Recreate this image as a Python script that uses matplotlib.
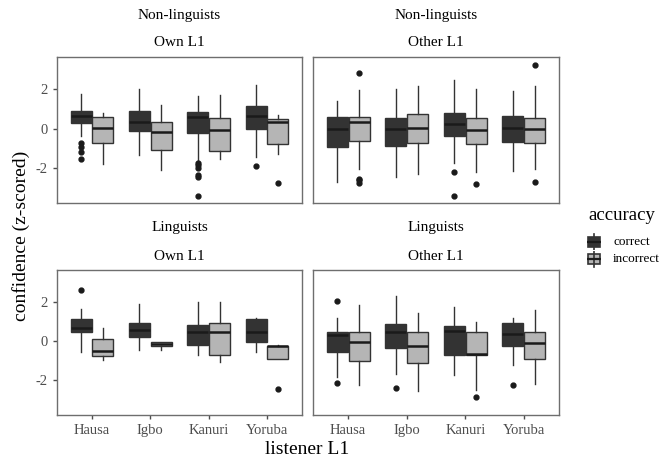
import matplotlib
matplotlib.use('Agg')
import matplotlib.pyplot as plt
from matplotlib.patches import Rectangle
import numpy as np

plt.rcParams['font.family'] = ['Liberation Serif', 'DejaVu Serif']

languages = ['Hausa', 'Igbo', 'Kanuri', 'Yoruba']
groups = ['Non-linguists', 'Linguists']
l1_types = ['Own L1', 'Other L1']
accuracy_levels = ['correct', 'incorrect']
fill_colors = {'correct': '#333333', 'incorrect': '#b5b5b5'}

# box stats per panel: [language] -> (whislo, q1, med, q3, whishi, fliers)
nonling_own_correct = [
    (-0.37, 0.30, 0.64, 0.92, 1.76, [-0.75, -0.95, -1.21, -1.54]),
    (-1.34, -0.15, 0.32, 0.89, 2.03, []),
    (-1.59, -0.22, 0.59, 0.85, 1.68, [-1.74, -1.88, -1.99, -2.38, -2.46, -3.42]),
    (-1.46, -0.02, 0.65, 1.16, 2.23, [-1.93]),
]
nonling_own_incorrect = [
    (-1.79, -0.75, 0.05, 0.60, 0.80, []),
    (-2.13, -1.09, -0.20, 0.32, 1.22, []),
    (-1.54, -1.16, -0.08, 0.52, 1.69, []),
    (-1.32, -0.79, 0.34, 0.47, 0.69, [-2.76]),
]
nonling_other_correct = [
    (-2.75, -0.95, 0.00, 0.59, 1.42, []),
    (-2.46, -0.90, -0.03, 0.55, 2.01, []),
    (-1.76, -0.37, 0.23, 0.80, 2.48, [-2.23, -3.43]),
    (-2.16, -0.67, 0.05, 0.64, 1.93, []),
]
nonling_other_incorrect = [
    (-2.09, -0.62, 0.34, 0.60, 1.98, [2.85, -2.55, -2.63, -2.76]),
    (-2.33, -0.72, 0.02, 0.75, 2.18, []),
    (-2.23, -0.80, -0.08, 0.52, 2.01, [-2.83]),
    (-2.09, -0.72, -0.02, 0.55, 2.19, [3.23, -2.75]),
]
ling_own_correct = [
    (-0.58, 0.44, 0.68, 1.15, 1.63, [2.61]),
    (-0.46, 0.20, 0.58, 0.95, 1.92, []),
    (-0.71, -0.19, 0.49, 0.83, 2.00, []),
    (-0.54, -0.07, 0.49, 1.15, 1.20, []),
]
ling_own_incorrect = [
    (-0.98, -0.78, -0.53, 0.08, 0.66, []),
    (-0.46, -0.27, -0.17, -0.03, -0.03, []),
    (-1.08, -0.71, 0.49, 0.92, 2.00, []),
    (-0.93, -0.93, -0.24, -0.24, -0.20, [-2.44]),
]
ling_other_correct = [
    (-1.85, -0.54, 0.29, 0.44, 1.20, [2.08, -2.15]),
    (-1.68, -0.37, 0.44, 0.88, 2.31, [-2.41]),
    (-1.76, -0.71, 0.51, 0.75, 1.76, []),
    (-1.25, -0.24, 0.36, 0.95, 1.17, [-2.24]),
]
ling_other_incorrect = [
    (-2.27, -1.00, -0.03, 0.44, 1.83, []),
    (-2.58, -1.12, -0.25, 0.49, 1.46, []),
    (-2.49, -0.71, -0.69, 0.49, 0.98, [-2.90]),
    (-2.19, -0.93, -0.10, 0.49, 1.59, []),
]

panels = {
    ('Non-linguists', 'Own L1'): (nonling_own_correct, nonling_own_incorrect),
    ('Non-linguists', 'Other L1'): (nonling_other_correct, nonling_other_incorrect),
    ('Linguists', 'Own L1'): (ling_own_correct, ling_own_incorrect),
    ('Linguists', 'Other L1'): (ling_other_correct, ling_other_incorrect),
}

W, H = 667, 459
fig = plt.figure(figsize=(W / 100, H / 100), dpi=100)

# panel edges in pixels
px_cols = [(57, 302), (313, 559)]
px_rows = [(57, 203), (270, 415)]

line_col = '#333333'
box_w = 0.36
offsets = [-0.1875, 0.1875]

def to_stats(t):
    return dict(whislo=t[0], q1=t[1], med=t[2], q3=t[3], whishi=t[4], fliers=t[5])

for ri, grp in enumerate(groups):
    for ci, l1 in enumerate(l1_types):
        x0, x1 = px_cols[ci]
        y0, y1 = px_rows[ri]
        ax = fig.add_axes([x0 / W, 1 - y1 / H, (x1 - x0) / W, (y1 - y0) / H])
        pos = np.arange(1, len(languages) + 1)
        for k, acc in enumerate(accuracy_levels):
            stats = [to_stats(t) for t in panels[(grp, l1)][k]]
            ax.bxp(stats, positions=pos + offsets[k], widths=box_w,
                   patch_artist=True, showcaps=False,
                   boxprops=dict(facecolor=fill_colors[acc], edgecolor=line_col, linewidth=1.0),
                   medianprops=dict(color='#1a1a1a', linewidth=1.8),
                   whiskerprops=dict(color=line_col, linewidth=1.0),
                   flierprops=dict(marker='o', markerfacecolor='#1a1a1a',
                                   markeredgecolor='#1a1a1a', markersize=3.5))
        ax.set_xlim(0.4, 4.6)
        ax.set_ylim(-3.8, 3.65)
        ax.set_yticks([-2, 0, 2])
        ax.set_xticks(pos)
        for sp in ax.spines.values():
            sp.set_color('#6e6e6e')
            sp.set_linewidth(1.0)
        ax.tick_params(colors='#4d4d4d', labelsize=10.5, length=3, width=1)
        if ri == 1:
            ax.set_xticklabels(languages)
        else:
            ax.tick_params(axis='x', bottom=False, labelbottom=False)
        if ci == 1:
            ax.tick_params(axis='y', left=False, labelleft=False)
        else:
            ax.set_yticklabels(['-2', '0', '2'])
        xc = (x0 + x1) / 2 / W
        fig.text(xc, 1 - (y0 - 42) / H, grp, ha='center', va='center', fontsize=11)
        fig.text(xc, 1 - (y0 - 14) / H, l1, ha='center', va='center', fontsize=11)

fig.text(307 / W, 1 - 450 / H, 'listener L1', ha='center', va='center', fontsize=14)
fig.text(21 / W, 1 - 236 / H, 'confidence (z-scored)', ha='center', va='center',
         rotation=90, fontsize=14)

# legend, laid out by hand like ggplot's guide
fig.text(588 / W, 1 - 216 / H, 'accuracy', ha='left', va='center', fontsize=13.5)
key_rows = [242, 259]
for acc, yk in zip(accuracy_levels, key_rows):
    kax = fig.add_axes([587 / W, 1 - (yk + 8.5) / H, 14 / W, 17 / H])
    kax.set_axis_off()
    kax.set_xlim(0, 1)
    kax.set_ylim(0, 1)
    kax.plot([0.5, 0.5], [0.02, 0.98], color=line_col, lw=1.2)
    kax.add_patch(Rectangle((0.1, 0.22), 0.8, 0.56, facecolor=fill_colors[acc],
                            edgecolor=line_col, lw=1.2))
    kax.plot([0.1, 0.9], [0.5, 0.5], color='#1a1a1a', lw=1.6)
    fig.text(613 / W, 1 - yk / H, acc, ha='left', va='center', fontsize=9.5)

fig.savefig('out.png', dpi=100)
